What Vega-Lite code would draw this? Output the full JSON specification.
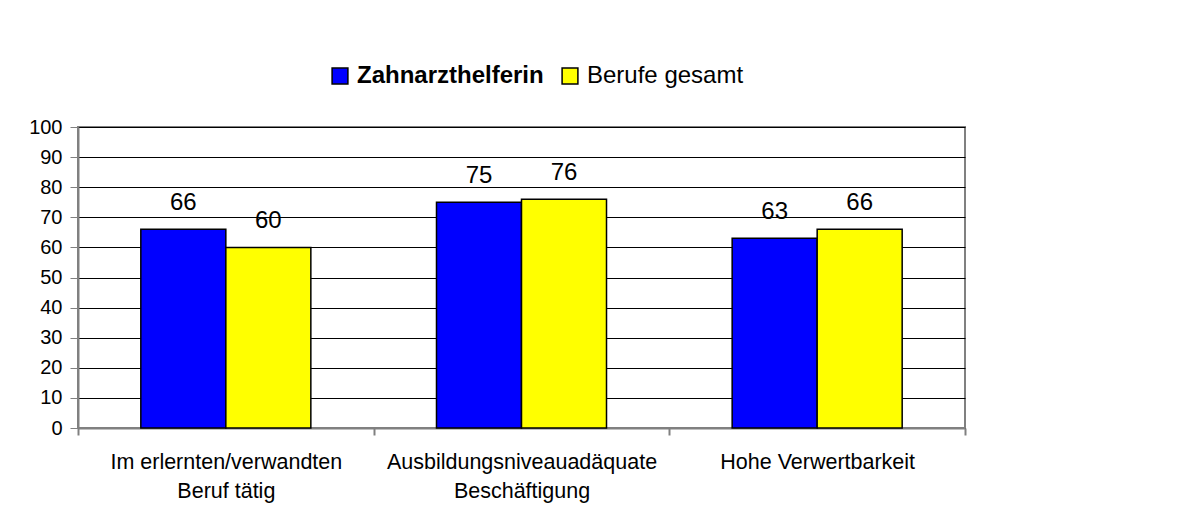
{
  "$schema": "https://vega.github.io/schema/vega-lite/v6.json",
  "width": 887,
  "height": 301,
  "autosize": {"type": "none"},
  "padding": {"left": 78, "top": 127, "right": 237, "bottom": 89},
  "background": "white",
  "config": {"font": "Liberation Sans", "view": {"stroke": "#808080", "strokeWidth": 2}},
  "data": {
    "values": [
      {"category": "Im erlernten/verwandten Beruf tätig", "series": "Zahnarzthelferin", "value": 66},
      {"category": "Im erlernten/verwandten Beruf tätig", "series": "Berufe gesamt", "value": 60},
      {"category": "Ausbildungsniveauadäquate Beschäftigung", "series": "Zahnarzthelferin", "value": 75},
      {"category": "Ausbildungsniveauadäquate Beschäftigung", "series": "Berufe gesamt", "value": 76},
      {"category": "Hohe Verwertbarkeit", "series": "Zahnarzthelferin", "value": 63},
      {"category": "Hohe Verwertbarkeit", "series": "Berufe gesamt", "value": 66}
    ]
  },
  "encoding": {
    "x": {
      "field": "category",
      "type": "nominal",
      "sort": ["Im erlernten/verwandten Beruf tätig", "Ausbildungsniveauadäquate Beschäftigung", "Hohe Verwertbarkeit"],
      "scale": {"paddingInner": 0, "paddingOuter": 0},
      "axis": {
        "title": null,
        "labelAngle": 0,
        "tickBand": "extent",
        "labelExpr": "datum.value == 'Im erlernten/verwandten Beruf tätig' ? ['Im erlernten/verwandten', 'Beruf tätig'] : datum.value == 'Ausbildungsniveauadäquate Beschäftigung' ? ['Ausbildungsniveauadäquate', 'Beschäftigung'] : datum.value",
        "labelFontSize": 21.5,
        "labelColor": "black",
        "labelPadding": 16,
        "labelLineHeight": 29,
        "labelBaseline": "top",
        "labelLimit": 0,
        "tickSize": 7,
        "tickColor": "#808080",
        "tickWidth": 2,
        "domainColor": "#808080",
        "domainWidth": 2,
        "grid": false
      }
    },
    "xOffset": {
      "field": "series",
      "type": "nominal",
      "scale": {"domain": ["Zahnarzthelferin", "Berufe gesamt"], "paddingOuter": 0.739, "paddingInner": 0}
    },
    "y": {
      "field": "value",
      "type": "quantitative",
      "scale": {"domain": [0, 100]},
      "axis": {
        "title": null,
        "values": [0, 10, 20, 30, 40, 50, 60, 70, 80, 90, 100],
        "grid": true,
        "gridColor": "black",
        "gridWidth": 1,
        "gridOpacity": 1,
        "labelFontSize": 20,
        "labelColor": "black",
        "labelPadding": 8,
        "tickSize": 8,
        "tickColor": "#808080",
        "tickWidth": 1,
        "domainColor": "#808080",
        "domainWidth": 2
      }
    }
  },
  "layer": [
    {
      "mark": {"type": "bar", "stroke": "black", "strokeWidth": 1.5},
      "encoding": {
        "color": {
          "field": "series",
          "type": "nominal",
          "scale": {"domain": ["Zahnarzthelferin", "Berufe gesamt"], "range": ["#0000FF", "#FFFF00"]},
          "legend": {
            "title": null,
            "orient": "none",
            "direction": "horizontal",
            "legendX": 250,
            "legendY": -63,
            "symbolType": "square",
            "symbolSize": 250,
            "symbolStrokeColor": "black",
            "symbolStrokeWidth": 1.5,
            "symbolOpacity": 1,
            "labelFontSize": 24,
            "labelColor": "black",
            "labelOffset": 5,
            "columnPadding": 14,
            "padding": 0,
            "labelLimit": 0,
            "encode": {
              "labels": {
                "update": {
                  "fontWeight": {"signal": "datum.label == 'Zahnarzthelferin' ? 'bold' : 'normal'"}
                }
              }
            }
          }
        }
      }
    },
    {
      "mark": {"type": "text", "dy": -19, "baseline": "alphabetic", "fontSize": 24, "color": "black"},
      "encoding": {"text": {"field": "value", "type": "quantitative"}}
    }
  ]
}
